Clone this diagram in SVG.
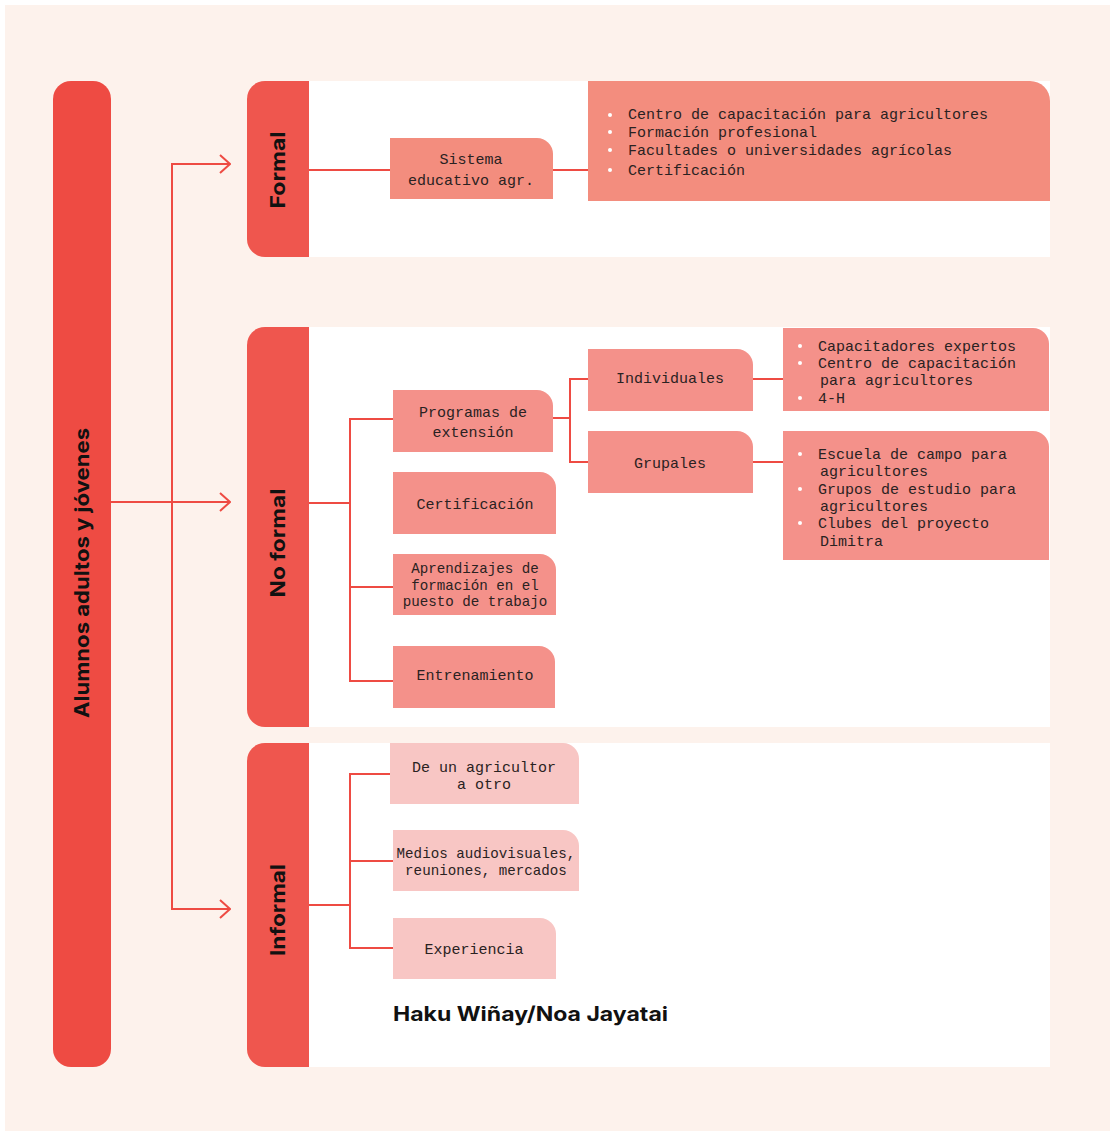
<svg xmlns="http://www.w3.org/2000/svg" width="1113" height="1131" viewBox="0 0 1113 1131">
<defs>
<style>
.bg{fill:#FDF2EC}
.bar{fill:#EE4B43}
.tab{fill:#EF564E}
.panel{fill:#FFFFFF}
.c1{fill:#F38D7E}
.c2{fill:#F4918A}
.c3{fill:#F8C6C4}
.ln{fill:none;stroke:#EE4B43;stroke-width:2}
.t{font-family:"Liberation Mono","DejaVu Sans Mono",monospace;font-size:15px;fill:#2a2222}
.s{font-size:14.2px}
.tm{text-anchor:middle}
.b{fill:#FFFFFF}
.h{font-family:"Inter","Liberation Sans",sans-serif;font-weight:700;font-size:20px;fill:#111}
</style>
<marker id="arr" viewBox="0 0 12 20" refX="11" refY="10" markerWidth="12" markerHeight="20" markerUnits="userSpaceOnUse" orient="auto">
<path d="M1,1 L11,10 L1,19" fill="none" stroke="#EE4B43" stroke-width="2"/>
</marker>
</defs>
<rect x="0" y="0" width="1113" height="1131" fill="#FFFFFF"/>
<rect class="bg" x="5" y="5" width="1105" height="1126"/>

<g id="root">
<rect class="bar" x="53" y="81" width="58" height="986" rx="18"/>
<text class="h tm" transform="translate(89,573) rotate(-90)" textLength="290" lengthAdjust="spacingAndGlyphs">Alumnos adultos y jóvenes</text>
</g>

<g id="formal">
<path class="tab" d="M309,81 H265 a18,18 0 0 0 -18,18 V239 a18,18 0 0 0 18,18 H309 Z"/>
<rect class="panel" x="309" y="81" width="741" height="176"/>
<text class="h tm" transform="translate(285,170) rotate(-90)" textLength="77" lengthAdjust="spacingAndGlyphs">Formal</text>
</g>
<g id="noformal">
<path class="tab" d="M309,327 H265 a18,18 0 0 0 -18,18 V709 a18,18 0 0 0 18,18 H309 Z"/>
<rect class="panel" x="309" y="327" width="741" height="400"/>
<text class="h tm" transform="translate(285,543) rotate(-90)" textLength="109" lengthAdjust="spacingAndGlyphs">No formal</text>
</g>
<g id="informal">
<path class="tab" d="M309,743 H265 a18,18 0 0 0 -18,18 V1049 a18,18 0 0 0 18,18 H309 Z"/>
<rect class="panel" x="309" y="743" width="741" height="324"/>
<text class="h tm" transform="translate(285,910) rotate(-90)" textLength="92" lengthAdjust="spacingAndGlyphs">Informal</text>
</g>

<g id="connectors">
<path class="ln" d="M111,502 H230" marker-end="url(#arr)"/>
<path class="ln" d="M230,164 H172 V909 H230" marker-end="url(#arr)"/>
<path class="ln" d="M172,164 H230" marker-end="url(#arr)"/>
<path class="ln" d="M309,170 H390 M553,170 H588"/>
<path class="ln" d="M309,503 H350 M393,419 H350 V681 H393 M350,587 H393"/>
<path class="ln" d="M553,418 H570 M588,379 H570 V462 H588 M753,379 H783 M753,462 H783"/>
<path class="ln" d="M309,905 H350 M390,774 H350 V948 H393 M350,861 H393"/>
</g>

<g id="sistema">
<path class="c1" d="M390,138 H537 a16,16 0 0 1 16,16 V199 H390 Z"/>
<text class="t tm" x="471" y="164">Sistema</text>
<text class="t tm" x="471" y="185">educativo agr.</text>
</g>
<g id="formal-list">
<path class="c1" d="M588,81 H1030 a20,20 0 0 1 20,20 V201 H588 Z"/>
<circle class="b" cx="610" cy="115" r="2"/>
<circle class="b" cx="610" cy="132" r="2"/>
<circle class="b" cx="610" cy="150" r="2"/>
<circle class="b" cx="610" cy="170" r="2"/>
<text class="t" x="628" y="119">Centro de capacitación para agricultores</text>
<text class="t" x="628" y="137">Formación profesional</text>
<text class="t" x="628" y="155">Facultades o universidades agrícolas</text>
<text class="t" x="628" y="175">Certificación</text>
</g>

<g id="programas">
<path class="c2" d="M393,390 H537 a16,16 0 0 1 16,16 V452 H393 Z"/>
<text class="t tm" x="473" y="417">Programas de</text>
<text class="t tm" x="473" y="437">extensión</text>
</g>
<g id="certificacion">
<path class="c2" d="M393,472 H540 a16,16 0 0 1 16,16 V534 H393 Z"/>
<text class="t tm" x="475" y="509">Certificación</text>
</g>
<g id="aprendizajes">
<path class="c2" d="M393,554 H540 a16,16 0 0 1 16,16 V615 H393 Z"/>
<text class="t s tm" x="475" y="573">Aprendizajes de</text>
<text class="t s tm" x="475" y="590">formación en el</text>
<text class="t s tm" x="475" y="606">puesto de trabajo</text>
</g>
<g id="entrenamiento">
<path class="c2" d="M393,646 H539 a16,16 0 0 1 16,16 V708 H393 Z"/>
<text class="t tm" x="475" y="680">Entrenamiento</text>
</g>
<g id="individuales">
<path class="c2" d="M588,349 H737 a16,16 0 0 1 16,16 V411 H588 Z"/>
<text class="t tm" x="670" y="383">Individuales</text>
</g>
<g id="grupales">
<path class="c2" d="M588,431 H737 a16,16 0 0 1 16,16 V493 H588 Z"/>
<text class="t tm" x="670" y="468">Grupales</text>
</g>
<g id="individuales-list">
<path class="c2" d="M783,328 H1033 a16,16 0 0 1 16,16 V411 H783 Z"/>
<circle class="b" cx="800" cy="346" r="2"/>
<circle class="b" cx="800" cy="363" r="2"/>
<circle class="b" cx="800" cy="398" r="2"/>
<text class="t" x="818" y="351">Capacitadores expertos</text>
<text class="t" x="818" y="368">Centro de capacitación</text>
<text class="t" x="820" y="385">para agricultores</text>
<text class="t" x="818" y="403">4-H</text>
</g>
<g id="grupales-list">
<path class="c2" d="M783,431 H1033 a16,16 0 0 1 16,16 V560 H783 Z"/>
<circle class="b" cx="800" cy="454" r="2"/>
<circle class="b" cx="800" cy="489" r="2"/>
<circle class="b" cx="800" cy="523" r="2"/>
<text class="t" x="818" y="459">Escuela de campo para</text>
<text class="t" x="820" y="476">agricultores</text>
<text class="t" x="818" y="494">Grupos de estudio para</text>
<text class="t" x="820" y="511">agricultores</text>
<text class="t" x="818" y="528">Clubes del proyecto</text>
<text class="t" x="820" y="546">Dimitra</text>
</g>

<g id="agricultor">
<path class="c3" d="M390,743 H563 a16,16 0 0 1 16,16 V804 H390 Z"/>
<text class="t tm" x="484" y="772">De un agricultor</text>
<text class="t tm" x="484" y="789">a otro</text>
</g>
<g id="medios">
<path class="c3" d="M393,830 H563 a16,16 0 0 1 16,16 V891 H393 Z"/>
<text class="t s tm" x="486" y="858">Medios audiovisuales,</text>
<text class="t s tm" x="486" y="875">reuniones, mercados</text>
</g>
<g id="experiencia">
<path class="c3" d="M393,918 H540 a16,16 0 0 1 16,16 V979 H393 Z"/>
<text class="t tm" x="474" y="954">Experiencia</text>
</g>
<g id="caption">
<text class="h" x="393" y="1021" textLength="275" lengthAdjust="spacingAndGlyphs">Haku Wiñay/Noa Jayatai</text>
</g>
</svg>
